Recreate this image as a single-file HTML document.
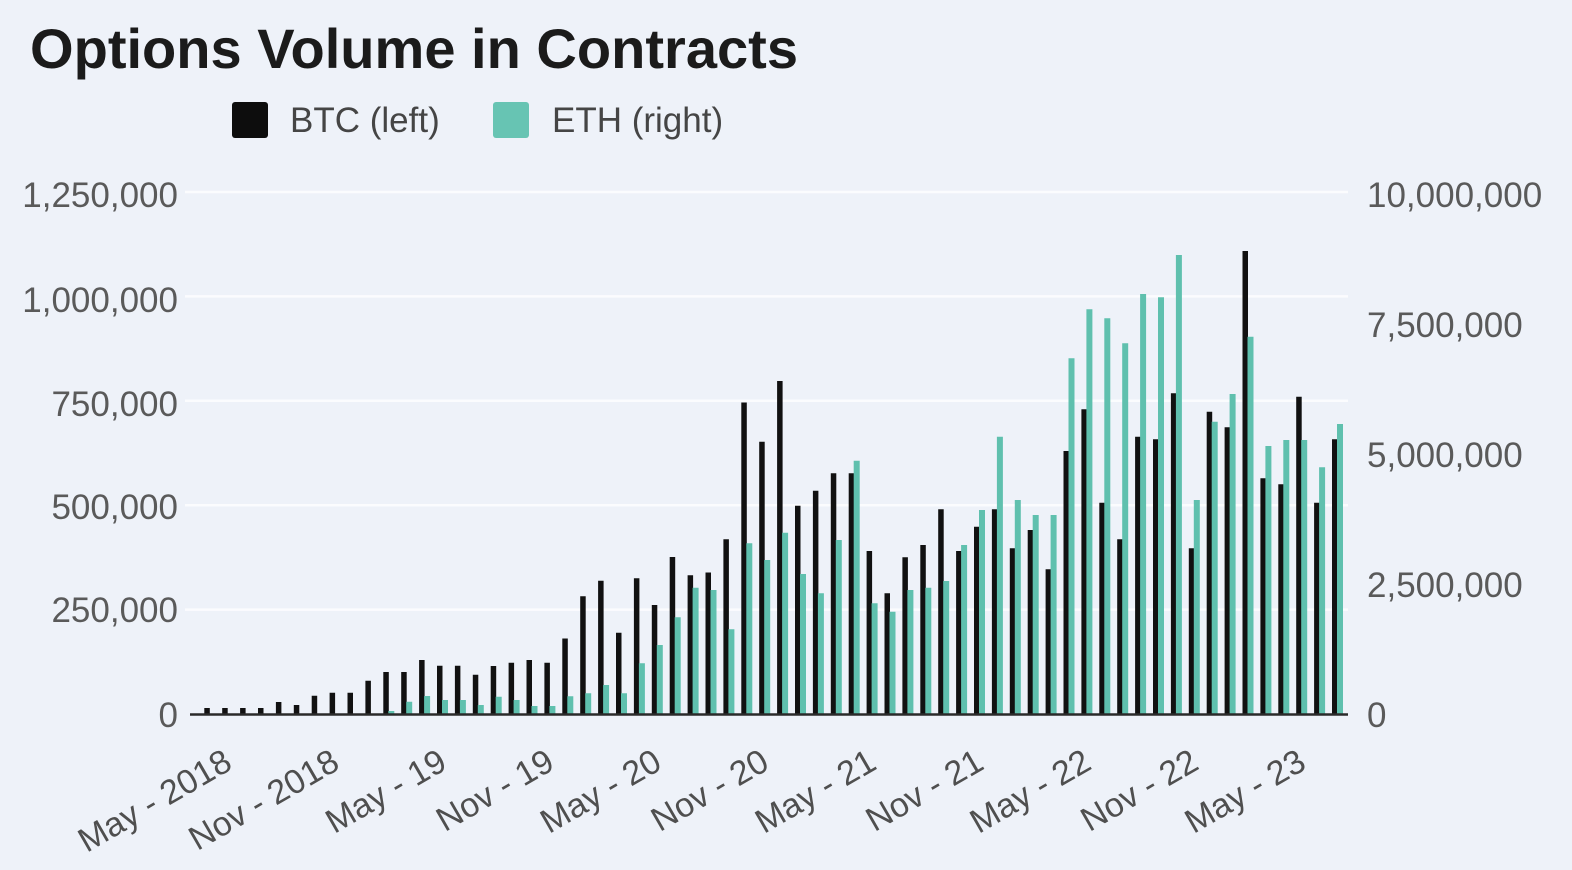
<!DOCTYPE html>
<html>
<head>
<meta charset="utf-8">
<style>
html,body{margin:0;padding:0;background:#eef2f9;}
body{width:1572px;height:870px;overflow:hidden;}
svg{display:block;}
text{font-family:"Liberation Sans",Arial,sans-serif;}
</style>
</head>
<body>
<svg width="1572" height="870" viewBox="0 0 1572 870" xmlns="http://www.w3.org/2000/svg">
<rect x="0" y="0" width="1572" height="870" fill="#eef2f9"/>
<text x="30" y="68" font-size="56" font-weight="bold" fill="#1b1b1b" textLength="768" lengthAdjust="spacingAndGlyphs">Options Volume in Contracts</text>
<rect x="232" y="102" width="36" height="36" rx="3" fill="#0d0d0d"/>
<text x="290" y="132" font-size="35" fill="#454545">BTC (left)</text>
<rect x="493" y="102" width="36" height="36" rx="3" fill="#67c4b3"/>
<text x="552" y="132" font-size="35" fill="#454545">ETH (right)</text>
<path d="M185 192H1348M185 296.4H1348M185 400.8H1348M185 505.2H1348M185 609.6H1348" stroke="#fbfcfe" stroke-width="2.5"/>
<g font-size="35" fill="#5a5a5a" text-anchor="end">
<text x="178" y="207">1,250,000</text>
<text x="178" y="312">1,000,000</text>
<text x="178" y="416">750,000</text>
<text x="178" y="519">500,000</text>
<text x="178" y="622">250,000</text>
<text x="178" y="727">0</text>
</g>
<g font-size="35" fill="#5a5a5a">
<text x="1367" y="207">10,000,000</text>
<text x="1367" y="337">7,500,000</text>
<text x="1367" y="467">5,000,000</text>
<text x="1367" y="597">2,500,000</text>
<text x="1367" y="727">0</text>
</g>
<path fill="#111111" d="M204.3 714V708h5.5V714z M222.2 714V708h5.5V714z M240.1 714V708h5.5V714z M258 714V708h5.5V714z M275.9 714V702h5.5V714z M293.8 714V705h5.5V714z M311.7 714V695.7h5.5V714z M329.6 714V692.7h5.5V714z M347.5 714V692.7h5.5V714z M365.4 714V680.7h5.5V714z M383.3 714V672h5.5V714z M401.2 714V672h5.5V714z M419.1 714V660h5.5V714z M437 714V665.7h5.5V714z M454.9 714V665.7h5.5V714z M472.8 714V674.7h5.5V714z M490.7 714V666h5.5V714z M508.6 714V662.7h5.5V714z M526.5 714V660h5.5V714z M544.4 714V662.7h5.5V714z M562.3 714V638.5h5.5V714z M580.2 714V596.3h5.5V714z M598.1 714V580.8h5.5V714z M616 714V632.7h5.5V714z M633.9 714V578.3h5.5V714z M651.8 714V605h5.5V714z M669.7 714V557h5.5V714z M687.6 714V575.3h5.5V714z M705.5 714V572.5h5.5V714z M723.4 714V539.2h5.5V714z M741.3 714V402.5h5.5V714z M759.2 714V441.7h5.5V714z M777.1 714V381h5.5V714z M795 714V505.7h5.5V714z M812.9 714V490.7h5.5V714z M830.8 714V473.3h5.5V714z M848.7 714V473.3h5.5V714z M866.6 714V551h5.5V714z M884.5 714V593.3h5.5V714z M902.4 714V557.3h5.5V714z M920.3 714V545h5.5V714z M938.2 714V509.3h5.5V714z M956.1 714V551h5.5V714z M974 714V526.7h5.5V714z M991.9 714V509.3h5.5V714z M1009.8 714V548.3h5.5V714z M1027.7 714V530h5.5V714z M1045.6 714V569.3h5.5V714z M1063.5 714V451h5.5V714z M1081.4 714V409.3h5.5V714z M1099.3 714V502.7h5.5V714z M1117.2 714V539.3h5.5V714z M1135.1 714V436.7h5.5V714z M1153 714V439.3h5.5V714z M1170.9 714V393.3h5.5V714z M1188.8 714V548.3h5.5V714z M1206.7 714V411.7h5.5V714z M1224.6 714V427.3h5.5V714z M1242.5 714V251h5.5V714z M1260.4 714V478.3h5.5V714z M1278.3 714V484.3h5.5V714z M1296.2 714V396.7h5.5V714z M1314.1 714V502.7h5.5V714z M1332 714V439.3h5.5V714z"/>
<path fill="#5fc0ae" d="M388.3 714V711h6V714z M406.2 714V701.7h6V714z M424.1 714V696h6V714z M442 714V700h6V714z M459.9 714V700h6V714z M477.8 714V705h6V714z M495.7 714V696.7h6V714z M513.6 714V700h6V714z M531.5 714V706h6V714z M549.4 714V706h6V714z M567.3 714V696.3h6V714z M585.2 714V693.3h6V714z M603.1 714V685h6V714z M621 714V693.3h6V714z M638.9 714V663.3h6V714z M656.8 714V645h6V714z M674.7 714V617.3h6V714z M692.6 714V587.7h6V714z M710.5 714V590h6V714z M728.4 714V629.3h6V714z M746.3 714V543.3h6V714z M764.2 714V560h6V714z M782.1 714V532.7h6V714z M800 714V574h6V714z M817.9 714V593.3h6V714z M835.8 714V540h6V714z M853.7 714V460.7h6V714z M871.6 714V603.3h6V714z M889.5 714V611.7h6V714z M907.4 714V590h6V714z M925.3 714V587.7h6V714z M943.2 714V581h6V714z M961.1 714V545h6V714z M979 714V510h6V714z M996.9 714V436.7h6V714z M1014.8 714V500h6V714z M1032.7 714V515h6V714z M1050.6 714V515h6V714z M1068.5 714V358.3h6V714z M1086.4 714V309.3h6V714z M1104.3 714V318.3h6V714z M1122.2 714V343.3h6V714z M1140.1 714V294h6V714z M1158 714V297.3h6V714z M1175.9 714V255h6V714z M1193.8 714V500h6V714z M1211.7 714V421.7h6V714z M1229.6 714V394h6V714z M1247.5 714V336.7h6V714z M1265.4 714V446h6V714z M1283.3 714V440h6V714z M1301.2 714V440h6V714z M1319.1 714V467.3h6V714z M1337 714V424h6V714z"/>
<line x1="190" y1="714.5" x2="1348" y2="714.5" stroke="#2a2a2a" stroke-width="2.5"/>
<g font-size="34" fill="#4f4f4f" text-anchor="end">
<text transform="translate(234,768) rotate(-30)">May - 2018</text>
<text transform="translate(341.4,768) rotate(-30)">Nov - 2018</text>
<text transform="translate(448.8,768) rotate(-30)">May - 19</text>
<text transform="translate(556.2,768) rotate(-30)">Nov - 19</text>
<text transform="translate(663.6,768) rotate(-30)">May - 20</text>
<text transform="translate(771,768) rotate(-30)">Nov - 20</text>
<text transform="translate(878.4,768) rotate(-30)">May - 21</text>
<text transform="translate(985.8,768) rotate(-30)">Nov - 21</text>
<text transform="translate(1093.2,768) rotate(-30)">May - 22</text>
<text transform="translate(1200.6,768) rotate(-30)">Nov - 22</text>
<text transform="translate(1308,768) rotate(-30)">May - 23</text>
</g>
</svg>
</body>
</html>
